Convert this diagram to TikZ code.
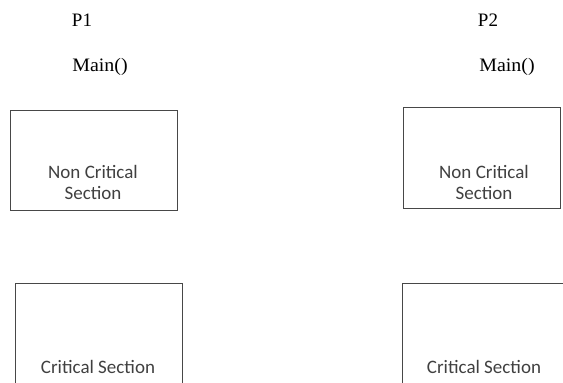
\documentclass[tikz,border=0pt]{standalone}
\usepackage{fontspec}
\setmainfont{Liberation Serif}
\newfontfamily\boxfont{Carlito}
\begin{document}
\begin{tikzpicture}[x=1pt,y=-1pt,
  frame/.style={draw=black!72,line width=1pt},
  title/.style={font=\fontsize{19}{21}\selectfont,text=black,inner sep=0pt},
  label/.style={font=\boxfont\fontsize{19}{21}\selectfont,text=black!75,align=center,inner sep=0pt}]
\useasboundingbox (0,0) rectangle (563,383);
\clip (0,0) rectangle (563,383);
% process headers
\node[title] (p1) at (82,20) {P1};
\node[title,xscale=1.05] (m1) at (100,67) {Main()};
\node[title] (p2) at (488,20) {P2};
\node[title,xscale=1.05] (m2) at (507,67) {Main()};
% non critical section boxes
\node[frame,minimum width=167pt,minimum height=100pt,inner sep=0pt] (ncs1) at (93.5,160) {};
\node[frame,minimum width=157pt,minimum height=101pt,inner sep=0pt] (ncs2) at (481.5,157.5) {};
\node[label] (ncs1t) at (93,182) {Non Critical\\Section};
\node[label] (ncs2t) at (484,182) {Non Critical\\Section};
% critical section boxes (run past the lower edge)
\coordinate (cs1a) at (15,395);
\coordinate (cs1b) at (182,395);
\coordinate (cs2a) at (402,395);
\coordinate (cs2b) at (575,283);
\draw[frame] (cs1a) |- (182,283) -- (cs1b);
\draw[frame] (cs2a) |- (cs2b);
\node[label] (cs1t) at (98,367) {Critical Section};
\node[label] (cs2t) at (484,367) {Critical Section};
\end{tikzpicture}
\end{document}
